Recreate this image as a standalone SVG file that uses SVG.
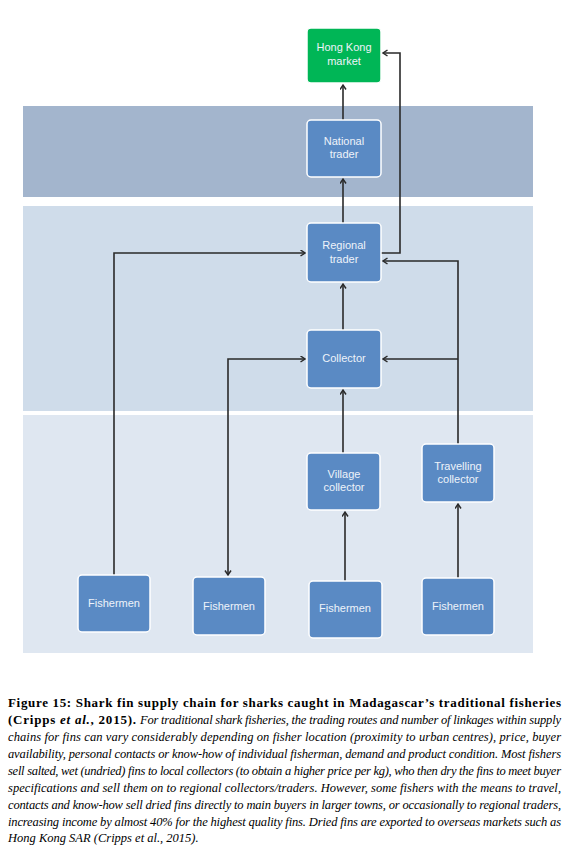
<svg xmlns="http://www.w3.org/2000/svg" width="587" height="853" viewBox="0 0 587 853">
<style>
.band1{fill:#a3b5cd}
.band2{fill:#cfdcea}
.band3{fill:#dfe7f1}
.node rect{fill:#5a8ac4;stroke:#ffffff;stroke-width:1.5}
.green rect{fill:#00b656;stroke:#ffffff;stroke-width:1.5}
.node text,.green text{font-family:"Liberation Sans",Arial,sans-serif;font-size:11px;fill:#eef3fa;text-anchor:middle}
.conn path{fill:none;stroke:#2a2a2a;stroke-width:1.6}
.cap{font-family:"Liberation Serif","Times New Roman",serif;fill:#000}
.b{font-weight:bold;font-size:13px}
.i{font-style:italic;font-size:12.5px}
</style>
<defs>
<marker id="ah" markerWidth="8" markerHeight="8" refX="5" refY="3.5" orient="auto-start-reverse" markerUnits="userSpaceOnUse">
<path d="M0.5,0.5 L5,3.5 L0.5,6.5" fill="none" stroke="#2a2a2a" stroke-width="1.5"/>
</marker>
</defs>
<rect width="587" height="853" fill="#ffffff"/>
<g id="bands">
<rect class="band1" x="23" y="106" width="510" height="91"/>
<rect class="band2" x="23" y="206" width="510" height="205"/>
<rect class="band3" x="23" y="415" width="510" height="238"/>
</g>
<g class="conn" id="connectors">
<path d="M343,120 L343,85" marker-end="url(#ah)"/>
<path d="M343,223 L343,179" marker-end="url(#ah)"/>
<path d="M381,253 L400,253 L400,53 L383,53" marker-end="url(#ah)"/>
<path d="M114,575 L114,253 L305,253" marker-end="url(#ah)"/>
<path d="M343,330 L343,284" marker-end="url(#ah)"/>
<path d="M228,575 L228,359 L305,359" marker-start="url(#ah)" marker-end="url(#ah)"/>
<path d="M343,453 L343,390" marker-end="url(#ah)"/>
<path d="M345,581 L345,512" marker-end="url(#ah)"/>
<path d="M458,578 L458,504" marker-end="url(#ah)"/>
<path d="M458,444 L458,261 L383,261" marker-end="url(#ah)"/>
<path d="M458,359 L383,359" marker-end="url(#ah)"/>
</g>
<g id="hk" class="green"><rect x="307" y="28" width="74" height="55" rx="4"/><text x="344" y="51">Hong Kong</text><text x="344" y="65">market</text></g>
<g id="national" class="node"><rect x="307" y="120" width="74" height="57" rx="4"/><text x="344" y="145">National</text><text x="344" y="158">trader</text></g>
<g id="regional" class="node"><rect x="307" y="223" width="74" height="59" rx="4"/><text x="344" y="249">Regional</text><text x="344" y="263">trader</text></g>
<g id="collector" class="node"><rect x="307" y="330" width="74" height="58" rx="4"/><text x="344" y="362">Collector</text></g>
<g id="village" class="node"><rect x="307" y="453" width="73" height="57" rx="4"/><text x="344" y="478">Village</text><text x="344" y="491">collector</text></g>
<g id="travelling" class="node"><rect x="422" y="444" width="72" height="58" rx="4"/><text x="458" y="470">Travelling</text><text x="458" y="483">collector</text></g>
<g id="fish1" class="node"><rect x="78" y="575" width="72" height="57" rx="4"/><text x="114" y="607">Fishermen</text></g>
<g id="fish2" class="node"><rect x="193" y="577" width="72" height="58" rx="4"/><text x="229" y="610">Fishermen</text></g>
<g id="fish3" class="node"><rect x="309" y="581" width="73" height="57" rx="4"/><text x="345" y="612">Fishermen</text></g>
<g id="fish4" class="node"><rect x="422" y="578" width="72" height="57" rx="4"/><text x="458" y="610">Fishermen</text></g>
<g id="caption" class="cap">
<text class="b" x="8" y="707" textLength="553" lengthAdjust="spacing">Figure 15: Shark fin supply chain for sharks caught in Madagascar’s traditional fisheries</text>
<text class="b" x="8" y="724" textLength="128" lengthAdjust="spacing">(Cripps <tspan font-style="italic">et al.</tspan>, 2015).</text>
<text class="i" x="140" y="724" textLength="421" lengthAdjust="spacing">For traditional shark fisheries, the trading routes and number of linkages within supply</text>
<text class="i" x="8" y="741" textLength="553" lengthAdjust="spacing">chains for fins can vary considerably depending on fisher location (proximity to urban centres), price, buyer</text>
<text class="i" x="8" y="758" textLength="553" lengthAdjust="spacing">availability, personal contacts or know-how of individual fisherman, demand and product condition. Most fishers</text>
<text class="i" x="8" y="775" textLength="553" lengthAdjust="spacing">sell salted, wet (undried) fins to local collectors (to obtain a higher price per kg), who then dry the fins to meet buyer</text>
<text class="i" x="8" y="792" textLength="553" lengthAdjust="spacing">specifications and sell them on to regional collectors/traders. However, some fishers with the means to travel,</text>
<text class="i" x="8" y="809" textLength="553" lengthAdjust="spacing">contacts and know-how sell dried fins directly to main buyers in larger towns, or occasionally to regional traders,</text>
<text class="i" x="8" y="826" textLength="553" lengthAdjust="spacing">increasing income by almost 40% for the highest quality fins. Dried fins are exported to overseas markets such as</text>
<text class="i" x="8" y="842">Hong Kong SAR (Cripps et al., 2015).</text>
</g>
</svg>
